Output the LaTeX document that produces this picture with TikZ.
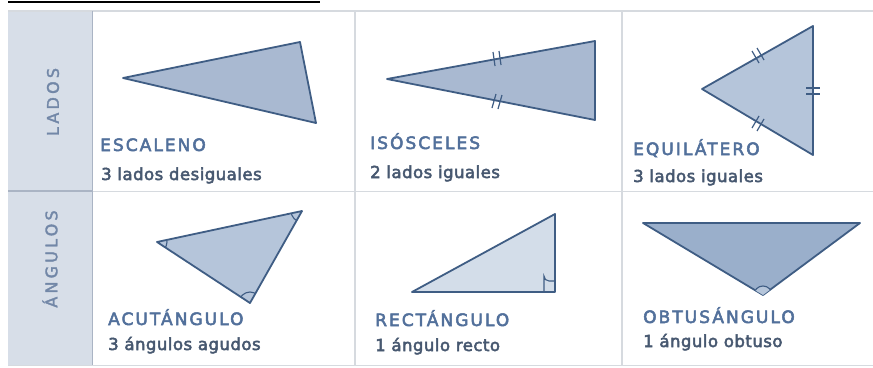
\documentclass[tikz,border=0pt]{standalone}
\usepackage{fontspec}
\setmainfont{DejaVu Sans}
\newfontfamily\capsfont[LetterSpace=12,FakeBold=3]{DejaVu Sans}
\newfontfamily\subfont[LetterSpace=3,FakeBold=3]{DejaVu Sans}
\newfontfamily\sidefont[LetterSpace=20,FakeBold=2]{DejaVu Sans}
\definecolor{ttl}{HTML}{52709B}
\definecolor{subc}{HTML}{475870}
\definecolor{sidec}{HTML}{7287A7}
\definecolor{leftbg}{HTML}{D7DEE8}
\definecolor{gridc}{HTML}{D6DADF}
\definecolor{darkln}{HTML}{AAB4C4}
\definecolor{edge}{HTML}{3F5D84}
\definecolor{fillA}{HTML}{A9B9D1}
\definecolor{fillB}{HTML}{B5C5DA}
\definecolor{fillC}{HTML}{D3DDE9}
\definecolor{fillD}{HTML}{9AAFCB}
\tikzset{
  tri/.style={draw=edge, line width=1.8pt, line join=round},
  tick/.style={draw=edge, line width=1.2pt},
  title/.style={anchor=base west, inner sep=0pt, text=ttl, font=\capsfont\fontsize{17}{19}\selectfont},
  sub/.style={anchor=base west, inner sep=0pt, text=subc, font=\subfont\fontsize{16.5}{19}\selectfont},
  side/.style={inner sep=0pt, text=sidec, rotate=90, font=\sidefont\fontsize{16}{18}\selectfont},
}
\begin{document}
\begin{tikzpicture}[x=1pt,y=-1pt]
\useasboundingbox (0,0) rectangle (873,367);
\fill[white] (0,0) rectangle (873,367);
% top black rule
\draw[black, line width=1.4pt] (8,2) -- (320,2);
% table
\fill[leftbg] (8,11) rectangle (92,365);
\draw[gridc, line width=1.2pt] (8,11) -- (873,11);
\draw[gridc, line width=1pt] (92,191) -- (873,191);
\draw[darkln, line width=1.4pt] (8,191) -- (92,191);
\draw[darkln, line width=1pt] (92,11) -- (92,365);
\draw[gridc, line width=1.2pt] (355,11) -- (355,365);
\draw[gridc, line width=1.2pt] (622,11) -- (622,365);
\draw[gridc, line width=1pt] (8,365) -- (873,365);
% side labels
\node[side] (lados) at (53,102) {LADOS};
\node[side] (angulos) at (50,259) {ÁNGULOS};
% escaleno
\filldraw[tri, fill=fillA] (123,78) coordinate (e1) -- (300,42) coordinate (e2) -- (316,123) coordinate (e3) -- cycle;
\node[title] (t1) at (100,151) {ESCALENO};
\node[sub] (s1) at (101,180) {3 lados desiguales};
% isosceles
\filldraw[tri, fill=fillA] (387,79) coordinate (i1) -- (595,41) coordinate (i2) -- (595,120) coordinate (i3) -- cycle;
\draw[tick] (493,52) -- (495,66) (499,51) -- (501,65);
\draw[tick] (492,108) -- (496,94) (498,109) -- (502,95);
\node[title] (t2) at (370,149) {ISÓSCELES};
\node[sub] (s2) at (370,178) {2 lados iguales};
% equilatero
\filldraw[tri, fill=fillB] (702,89) coordinate (q1) -- (813,26) coordinate (q2) -- (813,155) coordinate (q3) -- cycle;
\draw[tick] (752,51) -- (759,63) (757,48) -- (764,60);
\draw[tick] (752,128) -- (759,116) (757,131) -- (764,119);
\draw[tick] (806,88) -- (820,88) (806,94) -- (820,94);
\node[title] (t3) at (633,155) {EQUILÁTERO};
\node[sub] (s3) at (633,182) {3 lados iguales};
% acutangulo
\filldraw[tri, fill=fillB] (157,242) coordinate (a1) -- (302,211) coordinate (a2) -- (250,303) coordinate (a3) -- cycle;
\begin{scope}
\clip (157,242) -- (302,211) -- (250,303) -- cycle;
\draw[tick, line width=1.1pt] (a1) circle (10);
\draw[tick, line width=1.1pt] (a2) circle (11);
\draw[tick, line width=1.1pt] (a3) circle (11);
\end{scope}
\node[title] (t4) at (108,325) {ACUTÁNGULO};
\node[sub] (s4) at (108,350) {3 ángulos agudos};
% rectangulo
\filldraw[tri, fill=fillC] (412,292) coordinate (r1) -- (555,214) coordinate (r2) -- (555,292) coordinate (r3) -- cycle;
\draw[tick, line width=1.1pt] (555,281) -- (549,281) arc[start angle=90, end angle=180, radius=5] -- (544,292);
\node[title] (t5) at (375,326) {RECTÁNGULO};
\node[sub] (s5) at (375,351) {1 ángulo recto};
% obtusangulo
\filldraw[tri, fill=fillD] (643,223) coordinate (o1) -- (860,223) coordinate (o2) -- (763,295) coordinate (o3) -- cycle;
\begin{scope}
\clip (643,223) -- (860,223) -- (763,295) -- cycle;
\filldraw[tick, line width=1.1pt, fill=fillB] (o3) circle (9);
\end{scope}
\node[title] (t6) at (643,323) {OBTUSÁNGULO};
\node[sub] (s6) at (643,347) {1 ángulo obtuso};
\end{tikzpicture}
\end{document}
